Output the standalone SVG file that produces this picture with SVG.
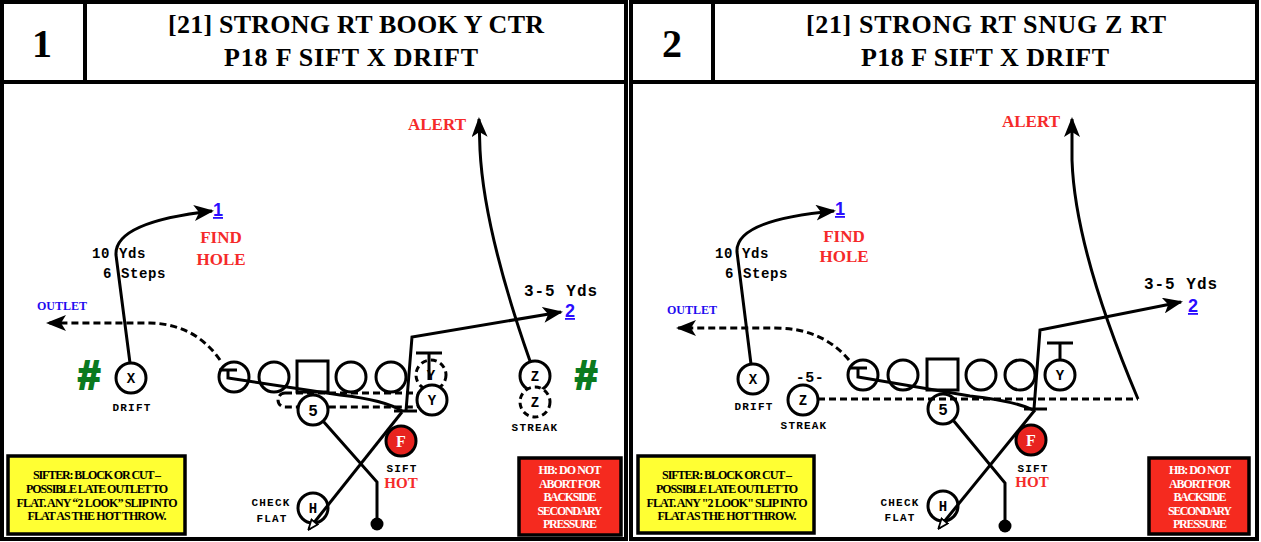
<svg xmlns="http://www.w3.org/2000/svg" width="1261" height="542" viewBox="0 0 1261 542">
<style>
.frame{fill:#fff;stroke:#000;stroke-width:4}
.bar{stroke:#000;stroke-width:4;fill:none}
.pl{fill:#fff;stroke:#000;stroke-width:3}
.pd{fill:#fff;stroke:#000;stroke-width:3;stroke-dasharray:6 4}
.rt{fill:none;stroke:#000;stroke-width:3}
.dash{fill:none;stroke:#000;stroke-width:3;stroke-dasharray:7 4}
.num{font-family:"Liberation Serif",serif;font-weight:bold;font-size:40px;text-anchor:middle}
.ttl{font-family:"Liberation Serif",serif;font-weight:bold;font-size:26px;text-anchor:middle}
.in{font-family:"Liberation Mono",monospace;font-weight:bold;font-size:14px;text-anchor:middle}
.sm{font-family:"Liberation Mono",monospace;font-weight:bold;font-size:11px;letter-spacing:1.2px;text-anchor:middle}
.yd{font-family:"Liberation Mono",monospace;font-weight:bold;font-size:14px;letter-spacing:0.6px}
.yd2{font-family:"Liberation Mono",monospace;font-weight:bold;font-size:16px;letter-spacing:1px;text-anchor:middle}
.red{font-family:"Liberation Serif",serif;font-weight:bold;font-size:17px;fill:#f52a2a;text-anchor:middle}
.blue{font-family:"Liberation Sans",sans-serif;font-weight:bold;font-size:18px;fill:#2a0cff;text-decoration:underline;text-anchor:middle}
.out{font-family:"Liberation Serif",serif;font-weight:bold;font-size:12px;fill:#1f0cf0;text-anchor:middle}
.hash{font-family:"Liberation Sans",sans-serif;font-weight:bold;font-size:40px;fill:#0a7a1f;stroke:#0a7a1f;stroke-width:2;text-anchor:middle}
.box{font-family:"Liberation Serif",serif;font-weight:bold;font-size:12px;text-anchor:middle}
.ybox{fill:#ffff33;stroke:#000;stroke-width:3.5}
.rbox{fill:#f52a1f;stroke:#000;stroke-width:3.5}
.fc{fill:#e8231f;stroke:#000;stroke-width:3}
.ft{font-family:"Liberation Serif",serif;font-weight:bold;font-size:16px;fill:#fff;text-anchor:middle}
</style>
<defs>
<marker id="arr" viewBox="0 0 20 16" markerWidth="20" markerHeight="16" refX="18" refY="8" orient="auto" markerUnits="userSpaceOnUse"><path d="M0,0 L20,8 L0,16 L5,8 Z" fill="#000"/></marker>
<marker id="sma" viewBox="0 0 12 10" markerWidth="12" markerHeight="10" refX="10" refY="5" orient="auto" markerUnits="userSpaceOnUse"><path d="M1,1 L11,5 L1,9 Z" fill="#fff" stroke="#000" stroke-width="1.8"/></marker>
</defs>

<!-- ================= PANEL 1 ================= -->
<g id="panel1-frame">
<rect class="frame" x="2" y="2" width="624" height="537"/>
<line class="bar" x1="2" y1="82" x2="626" y2="82"/>
<line class="bar" x1="85" y1="2" x2="85" y2="82"/>
<text class="num" x="42" y="57">1</text>
<text class="ttl" x="356" y="33" textLength="376">[21] STRONG RT BOOK Y CTR</text>
<text class="ttl" x="351" y="66" textLength="254">P18 F SIFT X DRIFT</text>
</g>

<g id="p1-motion">
<rect class="dash" x="278" y="393" width="144" height="14" rx="7"/>
</g>

<g id="p1-hashL"><text class="hash" x="89" y="389">#</text></g>
<g id="p1-X"><circle class="pl" cx="131" cy="378" r="15"/><text class="in" x="131" y="383">X</text><text class="sm" x="132" y="411">DRIFT</text></g>
<g id="p1-LT"><circle class="pl" cx="234" cy="377" r="15"/></g>
<g id="p1-LG"><circle class="pl" cx="274" cy="377" r="15"/></g>
<g id="p1-C"><rect class="pl" x="297" y="361" width="31" height="31"/></g>
<g id="p1-RG"><circle class="pl" cx="351" cy="377" r="15"/></g>
<g id="p1-RT"><circle class="pl" cx="391" cy="377" r="15"/></g>
<g id="p1-Ydash"><circle class="pd" cx="431" cy="375" r="15"/><text class="in" x="431" y="380">Y</text></g>
<g id="p1-Y"><circle class="pl" cx="432" cy="400" r="15"/><text class="in" x="432" y="405">Y</text></g>
<g id="p1-5"><circle class="pl" cx="313" cy="410" r="15"/><text class="in" x="313" y="416" style="font-size:16px">5</text></g>
<g id="p1-F"><circle class="fc" cx="401" cy="441" r="15"/><text class="ft" x="401" y="447">F</text><text class="sm" x="402" y="472">SIFT</text><text class="red" x="401" y="488" style="font-size:15px">HOT</text></g>
<g id="p1-H"><circle class="pl" cx="313" cy="508" r="15"/><text class="in" x="313" y="513">H</text><text class="sm" x="271" y="506">CHECK</text><text class="sm" x="272" y="522">FLAT</text></g>
<g id="p1-Z"><circle class="pl" cx="535" cy="376" r="15"/><text class="in" x="535" y="381">Z</text></g>
<g id="p1-Zdash"><circle class="pd" cx="535" cy="402" r="15"/><text class="in" x="535" y="407">Z</text><text class="sm" x="535" y="431">STREAK</text></g>
<g id="p1-hashR"><text class="hash" x="586" y="389">#</text></g>

<g id="p1-labels">
<text class="red" x="437" y="130">ALERT</text>
<text class="yd2" x="561" y="296">3-5 Yds</text>
<text class="blue" x="570" y="317">2</text>
<text class="blue" x="218" y="216">1</text>
<text class="red" x="221" y="243">FIND</text>
<text class="red" x="221" y="265">HOLE</text>
<text class="yd" x="92" y="258">10 Yds</text>
<text class="yd" x="103" y="278">6 Steps</text>
<text class="out" x="62" y="310">OUTLET</text>
</g>

<g id="p1-note-yellow">
<rect class="ybox" x="8" y="456" width="177" height="78"/>
<text class="box" x="97" y="479" textLength="128">SIFTER: BLOCK OR CUT –</text>
<text class="box" x="97" y="493" textLength="142">POSSIBLE LATE OUTLET TO</text>
<text class="box" x="97" y="507" textLength="161">FLAT.  ANY “2 LOOK” SLIP INTO</text>
<text class="box" x="97" y="520" textLength="139">FLAT AS THE HOT THROW.</text>
</g>
<g id="p1-note-red">
<rect class="rbox" x="519" y="458" width="102" height="77"/>
<text class="box" x="570" y="474" fill="#fff" textLength="63">HB: DO NOT</text>
<text class="box" x="570" y="488" fill="#fff" textLength="62">ABORT FOR</text>
<text class="box" x="570" y="501" fill="#fff" textLength="53">BACKSIDE</text>
<text class="box" x="570" y="515" fill="#fff" textLength="65">SECONDARY</text>
<text class="box" x="570" y="528" fill="#fff" textLength="54">PRESSURE</text>
</g>

<g id="p1-connectors">
<path class="rt" d="M130,363 L116,255 Q114,222 212,211" marker-end="url(#arr)"/>
<path class="dash" d="M220,360 Q195,324 150,323 L48,323" marker-end="url(#arr)"/>
<path class="rt" d="M530,361 Q484,230 480,150 L479,119" marker-end="url(#arr)"/>
<path class="rt" d="M406,411 L412,337 L561,312" marker-end="url(#arr)"/>
<path class="rt" d="M219,370 L237,370 M228,370 L228,378 L340,395 Q385,400 402,411"/>
<line class="rt" x1="394" y1="411" x2="417" y2="411"/>
<path class="rt" d="M416,353 L442,353 M429,353 L429,380"/>
<path class="rt" d="M402,412 L309,529" marker-end="url(#sma)"/>
<path class="rt" d="M323,421 L377,482 L377,522"/>
<circle cx="377" cy="524" r="6.5" fill="#000"/>
</g>

<!-- ================= PANEL 2 ================= -->
<g id="panel2-frame">
<rect class="frame" x="631" y="2" width="626" height="537"/>
<line class="bar" x1="631" y1="82" x2="1257" y2="82"/>
<line class="bar" x1="713" y1="2" x2="713" y2="82"/>
<text class="num" x="672" y="57">2</text>
<text class="ttl" x="986" y="33" textLength="360">[21] STRONG RT SNUG Z RT</text>
<text class="ttl" x="985" y="66" textLength="248">P18 F SIFT X DRIFT</text>
</g>

<g id="p2-X"><circle class="pl" cx="753" cy="379" r="15"/><text class="in" x="753" y="384">X</text><text class="sm" x="754" y="410">DRIFT</text></g>
<g id="p2-Z"><circle class="pl" cx="803" cy="400" r="15"/><text class="in" x="803" y="405">Z</text><text class="yd2" x="810" y="382" style="font-size:15px;letter-spacing:0.5px">-5-</text><text class="sm" x="804" y="429">STREAK</text></g>
<g id="p2-LT"><circle class="pl" cx="863" cy="375" r="15"/></g>
<g id="p2-LG"><circle class="pl" cx="903" cy="375" r="15"/></g>
<g id="p2-C"><rect class="pl" x="927" y="359" width="31" height="31"/></g>
<g id="p2-RG"><circle class="pl" cx="981" cy="375" r="15"/></g>
<g id="p2-RT"><circle class="pl" cx="1020" cy="375" r="15"/></g>
<g id="p2-Y"><circle class="pl" cx="1060" cy="375" r="15"/><text class="in" x="1060" y="380">Y</text></g>
<g id="p2-5"><circle class="pl" cx="943" cy="409" r="15"/><text class="in" x="943" y="415" style="font-size:16px">5</text></g>
<g id="p2-F"><circle class="fc" cx="1031" cy="440" r="15"/><text class="ft" x="1031" y="446">F</text><text class="sm" x="1033" y="472">SIFT</text><text class="red" x="1032" y="487" style="font-size:15px">HOT</text></g>
<g id="p2-H"><circle class="pl" cx="943" cy="506" r="15"/><text class="in" x="943" y="511">H</text><text class="sm" x="900" y="506">CHECK</text><text class="sm" x="900" y="521">FLAT</text></g>

<g id="p2-labels">
<text class="red" x="1031" y="127">ALERT</text>
<text class="yd2" x="1181" y="289">3-5 Yds</text>
<text class="blue" x="1193" y="312">2</text>
<text class="blue" x="840" y="215">1</text>
<text class="red" x="844" y="242">FIND</text>
<text class="red" x="844" y="262">HOLE</text>
<text class="yd" x="715" y="258">10 Yds</text>
<text class="yd" x="725" y="278">6 Steps</text>
<text class="out" x="692" y="314">OUTLET</text>
</g>

<g id="p2-note-yellow">
<rect class="ybox" x="638" y="456" width="176" height="77"/>
<text class="box" x="727" y="479" textLength="130">SIFTER: BLOCK OR CUT –</text>
<text class="box" x="727" y="493" textLength="142">POSSIBLE LATE OUTLET TO</text>
<text class="box" x="727" y="507" textLength="161">FLAT.  ANY "2 LOOK" SLIP INTO</text>
<text class="box" x="727" y="520" textLength="139">FLAT AS THE HOT THROW.</text>
</g>
<g id="p2-note-red">
<rect class="rbox" x="1149" y="458" width="100" height="76"/>
<text class="box" x="1200" y="474" fill="#fff" textLength="62">HB: DO NOT</text>
<text class="box" x="1200" y="488" fill="#fff" textLength="62">ABORT FOR</text>
<text class="box" x="1200" y="501" fill="#fff" textLength="53">BACKSIDE</text>
<text class="box" x="1200" y="515" fill="#fff" textLength="64">SECONDARY</text>
<text class="box" x="1200" y="528" fill="#fff" textLength="54">PRESSURE</text>
</g>

<g id="p2-connectors">
<path class="rt" d="M751,364 L737,252 Q735,220 834,211" marker-end="url(#arr)"/>
<path class="dash" d="M849,360 Q822,328 775,328 L678,328" marker-end="url(#arr)"/>
<path class="dash" d="M818,399 L1138,399"/>
<path class="rt" d="M1138,399 Q1075,250 1072,160 L1072,119" marker-end="url(#arr)"/>
<path class="rt" d="M1034,409 L1040,330 L1181,302" marker-end="url(#arr)"/>
<path class="rt" d="M849,368 L867,368 M858,368 L858,377 L970,396 Q1015,401 1033,410"/>
<line class="rt" x1="1024" y1="409" x2="1047" y2="409"/>
<path class="rt" d="M1047,343 L1073,343 M1060,343 L1060,360"/>
<path class="rt" d="M1035,410 L939,528" marker-end="url(#sma)"/>
<path class="rt" d="M953,420 L1005,483 L1005,522"/>
<circle cx="1005" cy="526" r="6.5" fill="#000"/>
</g>
</svg>
